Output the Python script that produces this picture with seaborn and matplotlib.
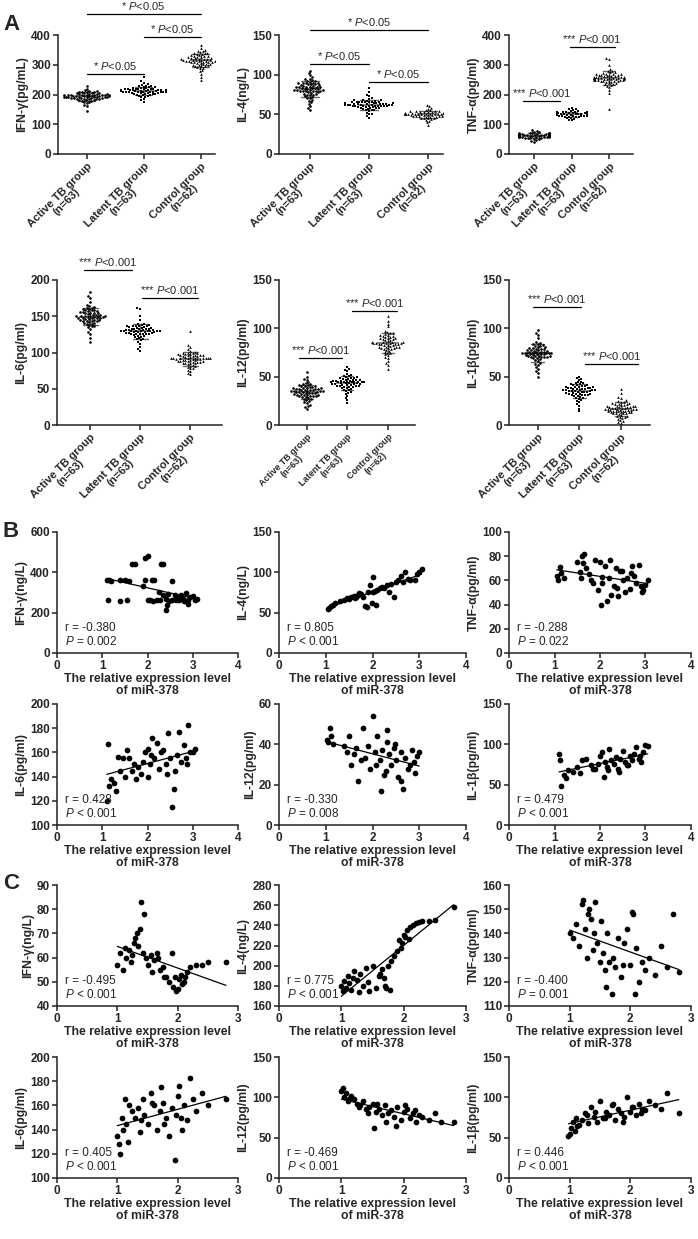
import numpy as np
import pandas as pd
import matplotlib
matplotlib.use("Agg")
import matplotlib.pyplot as plt
import seaborn as sns

# ---------------- data ----------------
groups = ["Active TB group\n(n=63)", "Latent TB group\n(n=63)", "Control group\n(n=62)"]
markers = ["o", "s", "^"]

# Panel A - cytokine levels per group
ifn_active = [193, 198, 186, 205, 190, 201, 178, 196, 210, 188, 199, 183, 204, 192, 215, 187, 197, 175, 202, 194, 208, 181, 196, 189, 220, 200, 185, 193, 170, 206, 198, 191, 212, 184, 195, 160, 203, 190, 199, 176, 209, 187, 194, 230, 182, 197, 201, 165, 192, 205, 188, 196, 145, 200, 185, 211, 193, 179, 198, 190, 207, 186, 195]
ifn_latent = [210, 215, 205, 220, 198, 225, 212, 208, 230, 203, 217, 195, 222, 209, 240, 214, 200, 226, 211, 190, 219, 207, 235, 213, 202, 224, 216, 185, 209, 228, 212, 199, 221, 206, 258, 214, 180, 218, 210, 204, 232, 213, 196, 223, 208, 215, 175, 220, 211, 201, 227, 209, 216, 193, 219, 212, 206, 245, 214, 203, 218, 210, 207]
ifn_control = [315, 322, 305, 330, 298, 340, 312, 318, 290, 335, 308, 325, 300, 345, 316, 282, 328, 310, 350, 304, 320, 295, 338, 313, 270, 326, 309, 355, 317, 301, 332, 288, 319, 306, 342, 314, 260, 324, 311, 297, 336, 315, 303, 365, 321, 292, 329, 308, 347, 318, 278, 327, 312, 300, 333, 316, 250, 323, 310, 296, 340, 314]

il4_active = [82, 88, 75, 92, 79, 85, 70, 95, 81, 78, 90, 84, 65, 87, 80, 99, 76, 83, 72, 91, 86, 60, 89, 81, 77, 94, 83, 68, 85, 79, 102, 74, 88, 82, 58, 90, 80, 76, 93, 84, 71, 87, 81, 105, 78, 86, 63, 89, 82, 75, 92, 80, 56, 85, 79, 97, 83, 73, 88, 81, 67, 90, 84]
il4_latent = [62, 65, 58, 68, 60, 63, 55, 66, 61, 59, 70, 64, 52, 67, 62, 57, 73, 63, 60, 65, 50, 68, 61, 58, 64, 83, 62, 56, 66, 60, 63, 48, 69, 62, 59, 65, 54, 67, 61, 63, 58, 75, 62, 60, 64, 51, 66, 61, 57, 65, 62, 46, 68, 63, 59, 64, 55, 66, 62, 60, 78, 63, 58]
il4_control = [50, 52, 48, 54, 49, 51, 46, 53, 50, 47, 55, 51, 44, 52, 50, 48, 57, 51, 49, 53, 42, 52, 50, 47, 54, 62, 50, 45, 53, 49, 51, 40, 55, 50, 48, 52, 46, 53, 50, 51, 47, 58, 50, 49, 52, 43, 54, 50, 48, 52, 50, 37, 53, 51, 49, 52, 45, 54, 50, 48, 60, 51]

tnf_active = [63, 66, 60, 70, 58, 65, 55, 68, 62, 59, 72, 64, 52, 67, 61, 57, 75, 63, 60, 66, 48, 69, 62, 58, 65, 80, 61, 54, 67, 60, 64, 45, 70, 62, 59, 66, 53, 68, 61, 63, 57, 77, 62, 60, 65, 50, 67, 61, 56, 66, 63, 42, 69, 62, 58, 64, 55, 67, 61, 59, 73, 63, 57]
tnf_latent = [135, 138, 131, 142, 128, 137, 125, 140, 134, 130, 145, 136, 122, 139, 133, 129, 148, 135, 132, 138, 118, 141, 134, 130, 137, 155, 133, 126, 140, 131, 136, 115, 143, 134, 129, 138, 124, 141, 133, 135, 128, 150, 134, 131, 137, 120, 139, 133, 127, 138, 135, 113, 142, 134, 130, 137, 125, 140, 133, 131, 152, 135, 128]
tnf_control = [255, 262, 245, 270, 250, 258, 238, 275, 253, 247, 280, 260, 230, 266, 252, 242, 285, 256, 249, 263, 225, 272, 254, 246, 260, 300, 251, 235, 268, 248, 257, 215, 278, 255, 244, 264, 232, 270, 252, 258, 240, 320, 254, 250, 262, 205, 267, 253, 243, 265, 256, 152, 274, 255, 248, 261, 236, 269, 252, 246, 322, 257]

il6_active = [150, 155, 145, 160, 142, 153, 138, 158, 149, 144, 165, 152, 135, 157, 148, 141, 170, 151, 146, 156, 128, 162, 149, 143, 154, 183, 147, 136, 159, 145, 152, 120, 163, 150, 143, 156, 133, 161, 148, 151, 140, 175, 149, 146, 154, 125, 158, 148, 139, 157, 151, 114, 164, 150, 144, 155, 137, 160, 148, 145, 178, 152, 141]
il6_latent = [130, 133, 127, 137, 125, 132, 120, 136, 129, 126, 140, 131, 117, 135, 128, 123, 145, 130, 127, 134, 112, 138, 129, 124, 132, 161, 128, 118, 136, 126, 131, 105, 139, 130, 125, 134, 115, 137, 128, 131, 122, 160, 129, 127, 133, 108, 135, 128, 121, 134, 130, 102, 138, 130, 125, 133, 119, 136, 129, 126, 150, 131, 123]
il6_control = [92, 95, 88, 99, 86, 94, 82, 98, 91, 87, 102, 93, 79, 97, 90, 85, 105, 92, 88, 96, 76, 100, 91, 86, 94, 130, 89, 80, 98, 87, 93, 72, 101, 92, 86, 96, 78, 99, 90, 93, 84, 108, 91, 88, 95, 74, 97, 90, 83, 96, 92, 70, 100, 92, 87, 95, 81, 98, 91, 88, 110, 93]

il12_active = [35, 38, 32, 41, 30, 37, 27, 40, 34, 31, 44, 36, 24, 39, 33, 29, 47, 35, 31, 38, 21, 42, 34, 30, 37, 55, 33, 25, 40, 31, 36, 19, 43, 35, 30, 38, 23, 41, 33, 36, 28, 50, 34, 32, 37, 20, 39, 33, 27, 38, 35, 17, 42, 35, 30, 37, 26, 40, 34, 31, 48, 36, 29]
il12_latent = [44, 47, 41, 50, 39, 46, 36, 49, 43, 40, 53, 45, 33, 48, 42, 38, 56, 44, 41, 47, 30, 51, 43, 39, 46, 60, 42, 34, 49, 40, 45, 26, 52, 44, 39, 47, 32, 50, 42, 45, 37, 58, 43, 41, 46, 28, 48, 42, 36, 47, 44, 23, 51, 44, 40, 46, 35, 49, 43, 40, 57, 45, 38]
il12_control = [85, 89, 81, 93, 78, 87, 74, 92, 84, 80, 97, 86, 70, 91, 83, 77, 102, 85, 81, 90, 66, 95, 84, 79, 88, 113, 82, 72, 93, 80, 86, 62, 96, 85, 79, 90, 69, 94, 83, 86, 76, 108, 84, 81, 88, 64, 91, 83, 75, 90, 85, 58, 95, 85, 80, 89, 73, 92, 84, 81, 105, 86]

il1b_active = [75, 78, 72, 82, 70, 77, 66, 81, 74, 71, 86, 76, 62, 80, 73, 69, 90, 75, 71, 79, 58, 84, 74, 70, 77, 98, 73, 63, 81, 71, 76, 54, 85, 75, 70, 79, 60, 83, 73, 76, 68, 95, 74, 72, 78, 56, 80, 73, 67, 79, 75, 50, 84, 75, 70, 78, 64, 82, 74, 71, 93, 76, 69]
il1b_latent = [36, 39, 33, 42, 31, 38, 28, 41, 35, 32, 45, 37, 25, 40, 34, 30, 48, 36, 32, 39, 22, 43, 35, 31, 38, 50, 34, 26, 41, 32, 37, 17, 44, 36, 31, 39, 24, 42, 34, 37, 29, 49, 35, 33, 38, 20, 40, 34, 28, 39, 36, 14, 43, 36, 31, 38, 27, 41, 35, 32, 47, 37, 30]
il1b_control = [17, 20, 14, 23, 12, 19, 9, 22, 16, 13, 26, 18, 6, 21, 15, 11, 29, 17, 13, 20, 4, 24, 16, 12, 19, 37, 15, 7, 22, 13, 18, 2, 25, 17, 12, 20, 5, 23, 15, 18, 10, 33, 16, 14, 19, 3, 21, 15, 9, 20, 17, 8, 24, 17, 12, 19, 8, 22, 16, 13, 28, 18]

# Panel B - miR-378 vs cytokines (active TB)
b_ifn_x = [1.10, 1.15, 1.20, 1.40, 1.50, 1.60, 1.95, 2.10, 2.15, 2.55, 1.65, 1.72, 2.30, 2.35, 1.95, 2.00, 1.12, 1.40, 1.55, 2.00, 2.05, 2.12, 2.20, 2.28, 2.40, 2.48, 2.55, 2.62, 2.70, 2.80, 2.90, 3.05, 2.35, 2.45, 2.60, 2.75, 2.85, 2.95, 3.00, 2.40, 2.42, 2.90, 1.90, 2.25, 2.65, 2.78, 3.10]
b_ifn_y = [360, 362, 358, 360, 362, 358, 360, 362, 360, 358, 440, 442, 440, 442, 470, 480, 262, 260, 262, 264, 262, 260, 264, 262, 266, 260, 262, 264, 262, 260, 262, 262, 288, 292, 286, 290, 296, 280, 285, 215, 238, 245, 330, 300, 275, 270, 268]
b_il4_x = [1.05, 1.08, 1.12, 1.15, 1.20, 1.30, 1.40, 1.45, 1.50, 1.55, 1.60, 1.65, 1.70, 1.75, 1.80, 1.85, 1.90, 1.95, 2.00, 2.02, 2.05, 2.08, 2.10, 2.15, 2.20, 2.25, 2.30, 2.40, 2.45, 2.50, 2.55, 2.60, 2.65, 2.70, 2.75, 2.80, 2.90, 2.95, 3.00, 3.05, 1.88, 1.98, 2.35, 1.62, 1.72]
b_il4_y = [55, 56, 58, 60, 62, 64, 66, 68, 67, 70, 71, 69, 72, 73, 70, 58, 75, 84, 76, 94, 77, 60, 78, 80, 82, 80, 84, 85, 70, 88, 90, 95, 88, 100, 92, 91, 90, 98, 100, 104, 57, 62, 76, 68, 74]
b_tnf_x = [1.05, 1.08, 1.12, 1.15, 1.20, 1.50, 1.55, 1.60, 1.65, 1.70, 1.75, 1.80, 1.90, 1.95, 2.00, 2.02, 2.05, 2.10, 2.15, 2.20, 2.25, 2.30, 2.35, 2.40, 2.45, 2.50, 2.55, 2.60, 2.65, 2.70, 2.75, 2.80, 2.85, 2.90, 2.95, 3.00, 3.05, 1.58, 1.85, 2.22, 2.48, 2.68, 2.92, 1.62, 2.05, 2.38]
b_tnf_y = [64, 60, 71, 66, 62, 75, 67, 80, 82, 70, 65, 60, 77, 52, 75, 40, 63, 72, 43, 62, 48, 55, 70, 47, 68, 60, 50, 62, 53, 72, 64, 58, 73, 55, 52, 56, 60, 62, 58, 77, 68, 66, 50, 74, 58, 54]
b_il6_x = [1.10, 1.12, 1.15, 1.20, 1.30, 1.35, 1.45, 1.50, 1.55, 1.60, 1.65, 1.70, 1.80, 1.85, 1.90, 1.95, 2.00, 2.02, 2.05, 2.10, 2.15, 2.20, 2.25, 2.30, 2.35, 2.40, 2.45, 2.50, 2.55, 2.60, 2.65, 2.70, 2.75, 2.80, 2.85, 2.90, 2.95, 3.00, 3.05, 1.25, 1.75, 2.08, 2.42, 2.58, 2.88, 1.40]
b_il6_y = [120, 167, 132, 138, 128, 156, 155, 140, 162, 155, 145, 150, 148, 142, 152, 160, 163, 140, 150, 172, 155, 168, 146, 160, 162, 150, 176, 155, 115, 145, 158, 177, 152, 166, 155, 183, 160, 160, 163, 135, 138, 158, 142, 130, 150, 145]
b_il12_x = [1.02, 1.05, 1.10, 1.12, 1.15, 1.40, 1.50, 1.55, 1.60, 1.70, 1.80, 1.85, 1.90, 1.95, 2.00, 2.05, 2.10, 2.15, 2.20, 2.25, 2.30, 2.32, 2.35, 2.40, 2.45, 2.50, 2.55, 2.60, 2.65, 2.70, 2.75, 2.80, 2.85, 2.90, 2.95, 3.00, 1.65, 1.75, 2.08, 2.28, 2.48, 2.62, 2.88, 1.45, 2.18]
b_il12_y = [42, 41, 48, 44, 40, 39, 44, 30, 35, 22, 48, 33, 39, 28, 54, 36, 44, 32, 37, 25, 47, 41, 35, 30, 38, 32, 24, 36, 18, 33, 28, 30, 37, 26, 34, 36, 38, 32, 30, 27, 40, 22, 31, 36, 17]
b_il1b_x = [1.10, 1.12, 1.15, 1.20, 1.30, 1.40, 1.50, 1.60, 1.70, 1.80, 1.90, 1.95, 2.00, 2.05, 2.10, 2.15, 2.20, 2.25, 2.30, 2.35, 2.40, 2.45, 2.50, 2.55, 2.60, 2.65, 2.70, 2.75, 2.80, 2.85, 2.90, 2.95, 3.00, 3.05, 1.55, 1.85, 2.08, 2.42, 2.62, 2.88, 1.25, 2.18]
b_il1b_y = [88, 80, 48, 62, 68, 66, 72, 80, 82, 74, 70, 76, 86, 90, 78, 72, 94, 80, 76, 84, 70, 82, 92, 78, 74, 86, 80, 88, 97, 82, 78, 90, 99, 98, 64, 70, 60, 66, 75, 86, 58, 68]

# Panel C - miR-378 vs cytokines (latent TB)
c_ifn_x = [1.00, 1.05, 1.10, 1.12, 1.15, 1.20, 1.22, 1.25, 1.28, 1.30, 1.32, 1.35, 1.38, 1.40, 1.42, 1.45, 1.48, 1.50, 1.55, 1.60, 1.65, 1.70, 1.75, 1.80, 1.85, 1.90, 1.92, 1.95, 1.98, 2.00, 2.02, 2.05, 2.08, 2.10, 2.12, 2.15, 2.20, 2.30, 2.40, 2.50, 2.80, 1.58, 1.68, 1.78]
c_ifn_y = [57, 62, 55, 64, 60, 63, 58, 61, 66, 68, 70, 65, 72, 83, 62, 78, 60, 57, 61, 59, 62, 55, 56, 52, 50, 62, 48, 52, 46, 47, 51, 53, 49, 50, 52, 54, 56, 57, 57, 58, 58, 54, 60, 52]
c_il4_x = [1.00, 1.02, 1.05, 1.08, 1.10, 1.12, 1.15, 1.18, 1.20, 1.25, 1.30, 1.35, 1.40, 1.42, 1.45, 1.50, 1.55, 1.60, 1.65, 1.70, 1.72, 1.75, 1.78, 1.80, 1.85, 1.90, 1.92, 1.95, 1.98, 2.00, 2.02, 2.05, 2.08, 2.10, 2.15, 2.20, 2.25, 2.30, 2.40, 2.50, 2.80, 1.62, 1.68, 1.28]
c_il4_y = [180, 175, 185, 178, 190, 183, 176, 188, 195, 186, 192, 180, 198, 184, 175, 200, 178, 190, 197, 180, 178, 200, 176, 205, 210, 215, 225, 218, 222, 230, 228, 235, 226, 238, 240, 242, 243, 244, 244, 245, 258, 192, 188, 174]
c_tnf_x = [1.00, 1.05, 1.10, 1.15, 1.20, 1.22, 1.25, 1.28, 1.30, 1.32, 1.35, 1.38, 1.40, 1.45, 1.50, 1.52, 1.55, 1.60, 1.62, 1.65, 1.70, 1.75, 1.80, 1.85, 1.90, 1.95, 2.00, 2.02, 2.05, 2.10, 2.15, 2.20, 2.25, 2.30, 2.40, 2.50, 2.60, 2.70, 2.80, 1.42, 1.58, 1.72, 1.88, 2.08]
c_tnf_y = [140, 138, 144, 135, 152, 154, 142, 130, 148, 150, 146, 133, 140, 136, 128, 145, 132, 118, 140, 128, 115, 126, 138, 122, 136, 142, 127, 149, 148, 134, 120, 128, 125, 130, 123, 135, 126, 148, 124, 153, 125, 130, 127, 115]
c_il6_x = [1.00, 1.02, 1.05, 1.08, 1.10, 1.15, 1.20, 1.25, 1.30, 1.35, 1.40, 1.42, 1.45, 1.50, 1.55, 1.60, 1.65, 1.70, 1.72, 1.75, 1.80, 1.85, 1.90, 1.95, 2.00, 2.02, 2.05, 2.10, 2.15, 2.20, 2.25, 2.30, 2.40, 2.50, 2.80, 1.18, 1.38, 1.58, 1.78, 1.98, 2.08, 1.12]
c_il6_y = [135, 128, 120, 150, 140, 145, 160, 155, 150, 158, 148, 165, 152, 145, 170, 160, 140, 155, 175, 162, 150, 135, 158, 115, 168, 176, 150, 160, 148, 183, 165, 155, 170, 160, 165, 130, 138, 162, 145, 152, 140, 165]
c_il12_x = [1.00, 1.02, 1.05, 1.08, 1.10, 1.15, 1.20, 1.25, 1.30, 1.35, 1.40, 1.45, 1.50, 1.55, 1.60, 1.65, 1.70, 1.75, 1.80, 1.85, 1.90, 1.95, 2.00, 2.05, 2.10, 2.15, 2.20, 2.25, 2.30, 2.40, 2.50, 2.60, 2.80, 1.12, 1.28, 1.42, 1.58, 1.72, 1.88, 2.02, 2.18, 1.52]
c_il12_y = [108, 112, 100, 105, 95, 102, 98, 92, 90, 96, 85, 88, 92, 82, 86, 78, 90, 80, 84, 76, 88, 72, 82, 86, 75, 80, 70, 78, 76, 72, 80, 70, 70, 98, 88, 80, 92, 70, 64, 90, 84, 62]
c_il1b_x = [1.00, 1.02, 1.05, 1.08, 1.10, 1.15, 1.20, 1.25, 1.30, 1.35, 1.40, 1.45, 1.50, 1.55, 1.60, 1.65, 1.70, 1.75, 1.80, 1.85, 1.90, 1.95, 2.00, 2.05, 2.10, 2.15, 2.20, 2.25, 2.30, 2.40, 2.50, 2.60, 2.80, 1.12, 1.28, 1.42, 1.58, 1.72, 1.88, 2.02, 2.18, 0.98]
c_il1b_y = [55, 62, 70, 58, 75, 66, 72, 80, 68, 88, 76, 70, 95, 74, 82, 78, 90, 72, 85, 80, 76, 100, 82, 88, 78, 92, 86, 84, 95, 90, 85, 105, 80, 65, 78, 82, 74, 92, 70, 88, 80, 52]

# ---------------- style ----------------
sns.set_style("ticks")
plt.rcParams["font.family"] = ["Liberation Sans", "DejaVu Sans"]
plt.rcParams["mathtext.fontset"] = "custom"
plt.rcParams["mathtext.rm"] = "Liberation Sans"
plt.rcParams["mathtext.it"] = "Liberation Sans:italic"
plt.rcParams["mathtext.bf"] = "Liberation Sans:bold"

W, H = 698, 1239
fig = plt.figure(figsize=(W / 100, H / 100), dpi=100)
fig.patch.set_facecolor("white")

TICK_FS = 8.5
LAB_FS = 8.8
NOTE_FS = 8.5


def box(l, r, t, b):
    # pixel box -> figure fraction
    return [l / W, 1 - b / H, (r - l) / W, (b - t) / H]


def frame(ax):
    sns.despine(ax=ax)
    for s in ("left", "bottom"):
        ax.spines[s].set_linewidth(1.1)
        ax.spines[s].set_color("#222222")
    ax.tick_params(width=1.1, length=3.5, pad=1.5, color="#222222")


def dot_panel(rect, data, ylabel, ymax, ystep, xlim, brackets, xfs=8):
    ax = fig.add_axes(rect)
    df = pd.DataFrame({
        "group": np.repeat(groups, [len(v) for v in data]),
        "value": np.concatenate(data),
    })
    for g, m in zip(groups, markers):
        sns.swarmplot(data=df[df["group"] == g], x="group", y="value", order=groups,
                      marker=m, color="black", size=1.9, linewidth=0, ax=ax, warn_thresh=1)
    sns.pointplot(data=df, x="group", y="value", order=groups, errorbar="sd",
                  linestyle="none", marker="_", markersize=16, markeredgewidth=1.1,
                  capsize=0.3, err_kws={"linewidth": 1.0}, color="#666666", ax=ax)
    ax.set_xlim(*xlim)
    ax.set_ylim(0, ymax)
    yt = np.arange(0, ymax + 1, ystep)
    ax.set_yticks(yt, labels=[f"{v:g}" for v in yt], fontweight="bold", fontsize=TICK_FS)
    ax.set_xticks(range(3), labels=groups, rotation=45, ha="right", rotation_mode="anchor",
                  fontweight="bold", fontsize=xfs, multialignment="center", linespacing=1.0)
    ax.set_xlabel("")
    ax.set_ylabel(ylabel, fontweight="bold", fontsize=LAB_FS, labelpad=2)
    frame(ax)
    for x0, x1, y, txt in brackets:
        ax.plot([x0, x1], [y, y], color="black", lw=0.9, clip_on=False)
        ax.annotate(txt, xy=((x0 + x1) / 2, y), xytext=(0, 1.5), textcoords="offset points",
                    ha="center", va="bottom", fontsize=8, annotation_clip=False)
    return ax


def corr_panel(rect, x, y, ylabel, xmax, ylim, ystep, r_txt, p_txt):
    ax = fig.add_axes(rect)
    sns.regplot(x=np.array(x), y=np.array(y), ci=None, ax=ax, color="black",
                scatter_kws={"s": 17, "linewidths": 0, "alpha": 1},
                line_kws={"linewidth": 0.9})
    ax.set_xlim(0, xmax)
    ax.set_ylim(*ylim)
    xt = np.arange(0, xmax + 1)
    ax.set_xticks(xt, labels=[str(v) for v in xt], fontweight="bold", fontsize=TICK_FS)
    yt = np.arange(ylim[0], ylim[1] + 1, ystep)
    ax.set_yticks(yt, labels=[f"{v:g}" for v in yt], fontweight="bold", fontsize=TICK_FS)
    ax.set_xlabel("The relative expression level\nof miR-378", fontweight="bold",
                  fontsize=LAB_FS, labelpad=1, linespacing=1.0)
    ax.set_ylabel(ylabel, fontweight="bold", fontsize=LAB_FS, labelpad=2)
    frame(ax)
    ax.text(0.045, 0.21, f"r = {r_txt}", transform=ax.transAxes, fontsize=NOTE_FS, va="center")
    ax.text(0.045, 0.095, r"$\it{P}$ " + p_txt, transform=ax.transAxes, fontsize=NOTE_FS, va="center")
    return ax


s1 = r"* $\it{P}$<0.05"
s3 = r"*** $\it{P}$<0.001"

# ---- A, row 1 ----
dot_panel(box(58, 215, 35, 154), [ifn_active, ifn_latent, ifn_control], "IFN-γ(pg/mL)",
          400, 100, (-0.5, 2.25), [(0, 1, 270, s1), (1, 2, 393, s1), (0, 2, 471, s1)])
dot_panel(box(279, 443, 35, 154), [il4_active, il4_latent, il4_control], "IL-4(ng/L)",
          150, 50, (-0.52, 2.25), [(0, 2, 156, s1), (0, 1, 113, s1), (1, 2, 91, s1)])
dot_panel(box(509, 633, 35, 154), [tnf_active, tnf_latent, tnf_control], "TNF-α(pg/ml)",
          400, 100, (-0.67, 2.64), [(-0.3, 0.7, 178, s3), (0.95, 2.15, 360, s3)])

# ---- A, row 2 ----
dot_panel(box(57, 222, 280, 425), [il6_active, il6_latent, il6_control], "IL-6(pg/ml)",
          200, 50, (-0.66, 2.64), [(-0.12, 0.84, 214, s3), (1.04, 2.16, 175, s3)])
dot_panel(box(279, 415, 280, 425), [il12_active, il12_latent, il12_control], "IL-12(pg/ml)",
          150, 50, (-0.69, 2.67), [(-0.2, 0.87, 69, s3), (1.12, 2.22, 118, s3)], xfs=6.5)
dot_panel(box(509, 650, 280, 425), [il1b_active, il1b_latent, il1b_control], "IL-1β(pg/ml)",
          150, 50, (-0.69, 2.7), [(-0.12, 1.05, 122, s3), (1.14, 2.4, 63, s3)])

# ---- B ----
bt, bb = 532, 653
corr_panel(box(57, 238, bt, bb), b_ifn_x, b_ifn_y, "IFN-γ(ng/L)", 4, (0, 600), 200, "-0.380", "= 0.002")
corr_panel(box(279, 466, bt, bb), b_il4_x, b_il4_y, "IL-4(ng/L)", 4, (0, 150), 50, "0.805", "< 0.001")
corr_panel(box(509, 691, bt, bb), b_tnf_x, b_tnf_y, "TNF-α(pg/ml)", 4, (0, 100), 20, "-0.288", "= 0.022")
bt, bb = 704, 825
corr_panel(box(57, 238, bt, bb), b_il6_x, b_il6_y, "IL-6(pg/ml)", 4, (100, 200), 20, "0.428", "< 0.001")
corr_panel(box(279, 466, bt, bb), b_il12_x, b_il12_y, "IL-12(pg/ml)", 4, (0, 60), 20, "-0.330", "= 0.008")
corr_panel(box(509, 691, bt, bb), b_il1b_x, b_il1b_y, "IL-1β(pg/ml)", 4, (0, 150), 50, "0.479", "< 0.001")

# ---- C ----
ct, cb = 885, 1006
corr_panel(box(57, 238, ct, cb), c_ifn_x, c_ifn_y, "IFN-γ(ng/L)", 3, (40, 90), 10, "-0.495", "< 0.001")
corr_panel(box(279, 466, ct, cb), c_il4_x, c_il4_y, "IL-4(ng/L)", 3, (160, 280), 20, "0.775", "< 0.001")
corr_panel(box(509, 691, ct, cb), c_tnf_x, c_tnf_y, "TNF-α(pg/ml)", 3, (110, 160), 10, "-0.400", "= 0.001")
ct, cb = 1057, 1178
corr_panel(box(57, 238, ct, cb), c_il6_x, c_il6_y, "IL-6(pg/ml)", 3, (100, 200), 20, "0.405", "< 0.001")
corr_panel(box(279, 466, ct, cb), c_il12_x, c_il12_y, "IL-12(pg/ml)", 3, (0, 150), 50, "-0.469", "< 0.001")
corr_panel(box(509, 691, ct, cb), c_il1b_x, c_il1b_y, "IL-1β(pg/ml)", 3, (0, 150), 50, "0.446", "< 0.001")

# panel letters
for letter, top in (("A", 14), ("B", 521), ("C", 873)):
    fig.text(3 / W, 1 - top / H, letter, fontsize=16, fontweight="bold", va="top", ha="left")

fig.savefig("out.png", dpi=100)
